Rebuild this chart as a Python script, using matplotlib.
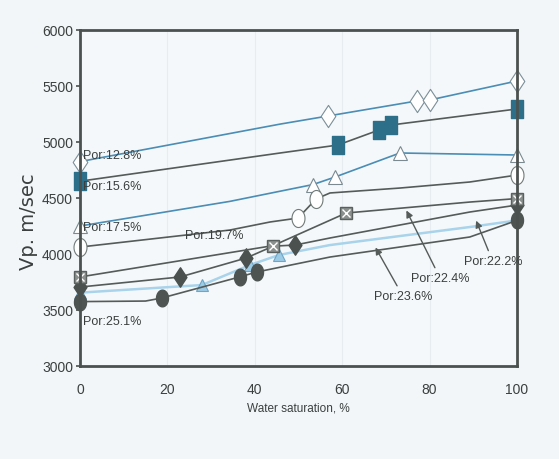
import numpy as np
import matplotlib
matplotlib.use("Agg")
import matplotlib.pyplot as plt
from matplotlib.path import Path

# water saturation (%) / Vp (m/sec)
x128 = [0, 45.8, 56.7, 77, 80, 100]
y128 = [4825, 5160, 5232, 5366, 5375, 5545]
m128 = [0, 2, 3, 4, 5]

x156 = [0, 45.8, 59, 68.4, 71.2, 100]
y156 = [4650, 4902, 4973, 5107, 5152, 5295]
m156 = [0, 2, 3, 4, 5]

x175 = [0, 34.3, 53.3, 58.4, 73.2, 100]
y175 = [4250, 4470, 4620, 4688, 4902, 4884]
m175 = [0, 2, 3, 4, 5]

x197 = [0, 34.3, 43.5, 49.9, 54, 57.2, 73.2, 89.2, 100]
y197 = [4062, 4214, 4286, 4321, 4491, 4545, 4589, 4643, 4705]
m197 = [0, 3, 4, 8]

x224 = [0, 44.2, 60.9, 89.2, 100]
y224 = [3795, 4075, 4366, 4464, 4495]
m224 = [0, 1, 2, 4]

x222 = [0, 22.9, 38, 44.2, 49.2, 57.2, 89.2, 100]
y222 = [3705, 3795, 3964, 4070, 4080, 4143, 4375, 4437]
m222 = [0, 1, 2, 4, 7]

x236 = [0, 27.9, 38.9, 45.5, 57.2, 89.2, 100]
y236 = [3655, 3723, 3902, 3991, 4080, 4241, 4300]
m236 = [0, 1, 2, 3]

x251 = [0, 15, 18.7, 36.5, 40.4, 57.2, 89.2, 100]
y251 = [3575, 3580, 3607, 3795, 3839, 3973, 4152, 4300]
m251 = [0, 2, 3, 4, 7]

xticks = [0, 20, 40, 60, 80, 100]
yticks = [3000, 3500, 4000, 4500, 5000, 5500, 6000]

blue = "#4a8db5"
grey = "#555b59"
teal = "#2d6f88"
pale = "#a9d3ea"

# tall markers
rect = Path([(-0.33, -0.5), (0.33, -0.5), (0.33, 0.5), (-0.33, 0.5), (-0.33, -0.5)],
            [Path.MOVETO, Path.LINETO, Path.LINETO, Path.LINETO, Path.CLOSEPOLY])
t = np.linspace(0, 2 * np.pi, 40)
ell = Path(np.column_stack([0.36 * np.cos(t), 0.5 * np.sin(t)]))
dia = Path([(0, -0.5), (0.33, 0), (0, 0.5), (-0.33, 0), (0, -0.5)],
           [Path.MOVETO, Path.LINETO, Path.LINETO, Path.LINETO, Path.CLOSEPOLY])

plt.rcParams['font.family'] = ['Liberation Sans Narrow', 'Liberation Sans', 'DejaVu Sans']

fig = plt.figure(figsize=(5.59, 4.59), dpi=100, facecolor="#f3f6f9")
ax = fig.add_axes([0.1431, 0.2026, 0.7818, 0.7320])
ax.set_facecolor("#f5f8fa")

for g in [20, 40, 60, 80]:
    ax.axvline(g, color="#e6ecf0", lw=0.8, zorder=0)

ax.plot(x128, y128, color=blue, lw=1.2, marker=dia, markevery=m128, ms=16,
        mfc="white", mec="#7a8f98", mew=0.8, clip_on=False)
ax.plot(x156, y156, color=grey, lw=1.2, marker=rect, markevery=m156, ms=13,
        mfc=teal, mec=teal, clip_on=False)
ax.plot(x175, y175, color=blue, lw=1.2, marker="^", markevery=m175, ms=10,
        mfc="white", mec="#7a8a90", mew=0.8, clip_on=False)
ax.plot(x197, y197, color=grey, lw=1.2, marker=ell, markevery=m197, ms=13,
        mfc="white", mec="#707a78", mew=0.8, clip_on=False)
ax.plot(x236, y236, color=pale, lw=1.8, marker="^", markevery=m236, ms=9,
        mfc="#9ccbe6", mec="#6ea6c6", mew=0.8, clip_on=False)
ax.plot(x251, y251, color=grey, lw=1.2, marker=ell, markevery=m251, ms=12,
        mfc="#4d5452", mec="#4d5452", clip_on=False)
ax.plot(x222, y222, color=grey, lw=1.2, marker=dia, markevery=m222, ms=14,
        mfc="#4a514f", mec="#4a514f", clip_on=False)
ax.plot(x224, y224, color=grey, lw=1.2, marker="s", markevery=m224, ms=9,
        mfc="#8a918f", mec="#5a605e", clip_on=False)
ax.plot(x224, y224, ls="none", marker="x", markevery=m224, ms=6,
        mec="white", mew=1.0, clip_on=False)

lab = dict(fontsize=9, color="#3b3f3e")
ax.text(0.6, 4875, "Por:12.8%", ha="left", va="center", **lab)
ax.text(0.6, 4598, "Por:15.6%", ha="left", va="center", **lab)
ax.text(0.6, 4232, "Por:17.5%", ha="left", va="center", **lab)
ax.text(24, 4160, "Por:19.7%", ha="left", va="center", **lab)
ax.text(0.6, 3393, "Por:25.1%", ha="left", va="center", **lab)

arr = dict(arrowstyle="-|>", color="#555b59", lw=1.0, mutation_scale=10)
ax.annotate("Por:22.2%", xy=(90.4, 4321), xytext=(94.5, 3929), ha="center",
            va="center", arrowprops=arr, **lab)
ax.annotate("Por:22.4%", xy=(74.4, 4411), xytext=(82.5, 3777), ha="center",
            va="center", arrowprops=arr, **lab)
ax.annotate("Por:23.6%", xy=(67.3, 4080), xytext=(74, 3616), ha="center",
            va="center", arrowprops=arr, **lab)

ax.set_xlim(0, 100)
ax.set_ylim(3000, 6000)
ax.set_xticks(xticks)
ax.set_yticks(yticks)
ax.tick_params(axis="x", length=0, pad=12, labelsize=10, labelcolor="#3b3f3e")
ax.tick_params(axis="y", length=3, width=1.2, color="#4b514f", pad=2,
               labelsize=10, labelcolor="#3b3f3e")
for s in ax.spines.values():
    s.set_color("#4b514f")
    s.set_linewidth(2)

ax.set_xlabel("Water saturation, %", fontsize=8.5, color="#3b3f3e", labelpad=4)
ax.set_ylabel("Vp. m/sec", fontsize=14, color="#3b3f3e",
              family=["DejaVu Sans"])
ax.yaxis.set_label_coords(-0.095, 0.43)

fig.savefig("out.png", dpi=100, facecolor=fig.get_facecolor())
